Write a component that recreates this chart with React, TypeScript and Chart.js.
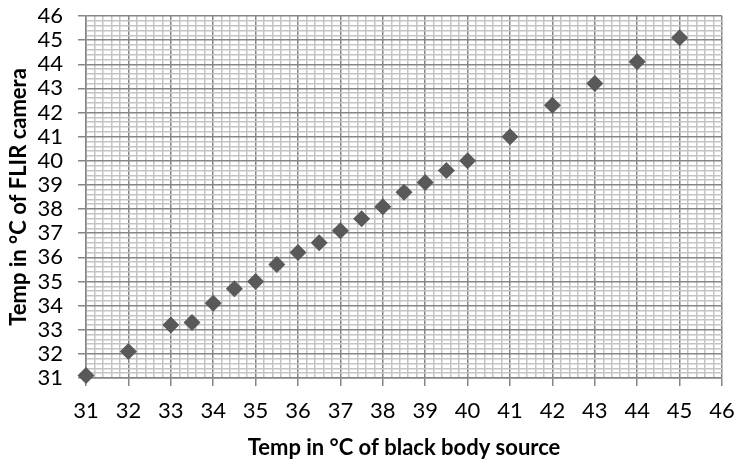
import React, { useEffect, useRef } from "react";
import { Chart, registerables } from "chart.js";
Chart.register(...registerables);

const blackBodyTemps = [31, 32, 33, 33.5, 34, 34.5, 35, 35.5, 36, 36.5, 37, 37.5, 38, 38.5, 39, 39.5, 40, 41, 42, 43, 44, 45];
const flirTemps = [31.1, 32.1, 33.2, 33.3, 34.1, 34.7, 35.0, 35.7, 36.2, 36.6, 37.1, 37.6, 38.1, 38.7, 39.1, 39.6, 40.0, 41.0, 42.3, 43.2, 44.1, 45.1];
const axisMin = 31;
const axisMax = 46;
const minorStep = 0.2;
const xTitle = "Temp in °C of black body source";
const yTitle = "Temp in °C of FLIR camera";

const isMajor = (v: number) => Math.abs(v - Math.round(v)) < 1e-6;
const FONT = "Lato, 'Liberation Sans', sans-serif";

export default function App() {
  const ref = useRef<HTMLCanvasElement>(null);
  useEffect(() => {
    const gridColor = (ctx: any) => (isMajor(ctx.tick.value) ? "#868686" : "#c4c4c4");
    const tickColor = (ctx: any) => (isMajor(ctx.tick.value) ? "#868686" : "rgba(0,0,0,0)");
    const label = (v: any) => (isMajor(Number(v)) ? String(Math.round(Number(v))) : "");
    const chart = new Chart(ref.current!, {
      type: "scatter",
      data: {
        datasets: [
          {
            data: blackBodyTemps.map((x, i) => ({ x, y: flirTemps[i] })),
            pointStyle: "rectRot",
            pointRadius: 8.5,
            backgroundColor: "#595959",
            borderColor: "#595959",
            borderWidth: 0,
            clip: false,
          } as any,
        ],
      },
      options: {
        animation: false,
        responsive: false,
        maintainAspectRatio: false,
        layout: { padding: { top: 16, right: 14, left: 6, bottom: 4 } },
        plugins: { legend: { display: false }, tooltip: { enabled: false } },
        scales: {
          x: {
            type: "linear",
            min: axisMin,
            max: axisMax,
            afterFit: (s: any) => {
              s.height = 83;
              s.paddingLeft = 0;
              s.paddingRight = 0;
            },
            border: { display: true, color: "#868686", width: 1.5 },
            grid: { color: gridColor, lineWidth: 1.5, tickColor, tickLength: 8, drawTicks: true },
            ticks: {
              stepSize: minorStep,
              autoSkip: false,
              maxRotation: 0,
              callback: label,
              color: "#000",
              font: { family: FONT, size: 22 },
              padding: 12,
            },
            title: {
              display: true,
              text: xTitle,
              color: "#000",
              font: { family: FONT, size: 22, weight: "bold" },
              padding: { top: 8, bottom: 0 },
            },
          },
          y: {
            type: "linear",
            min: axisMin,
            max: axisMax,
            afterFit: (s: any) => {
              s.width = 80;
              s.paddingTop = 0;
              s.paddingBottom = 0;
            },
            border: { display: true, color: "#868686", width: 1.5 },
            grid: { color: gridColor, lineWidth: 1.5, tickColor, tickLength: 8, drawTicks: true },
            ticks: {
              stepSize: minorStep,
              autoSkip: false,
              callback: label,
              color: "#000",
              font: { family: FONT, size: 22 },
              padding: 15,
            },
            title: {
              display: true,
              text: yTitle,
              color: "#000",
              font: { family: FONT, size: 22, weight: "bold" },
              padding: { top: 0, bottom: 2 },
            },
          },
        },
      },
    });
    return () => chart.destroy();
  }, []);
  return (
    <div style={{ position: "fixed", left: 0, top: 0, width: 736, height: 465, background: "#fff" }}>
      <canvas ref={ref} width={736} height={465} style={{ display: "block" }} />
    </div>
  );
}
